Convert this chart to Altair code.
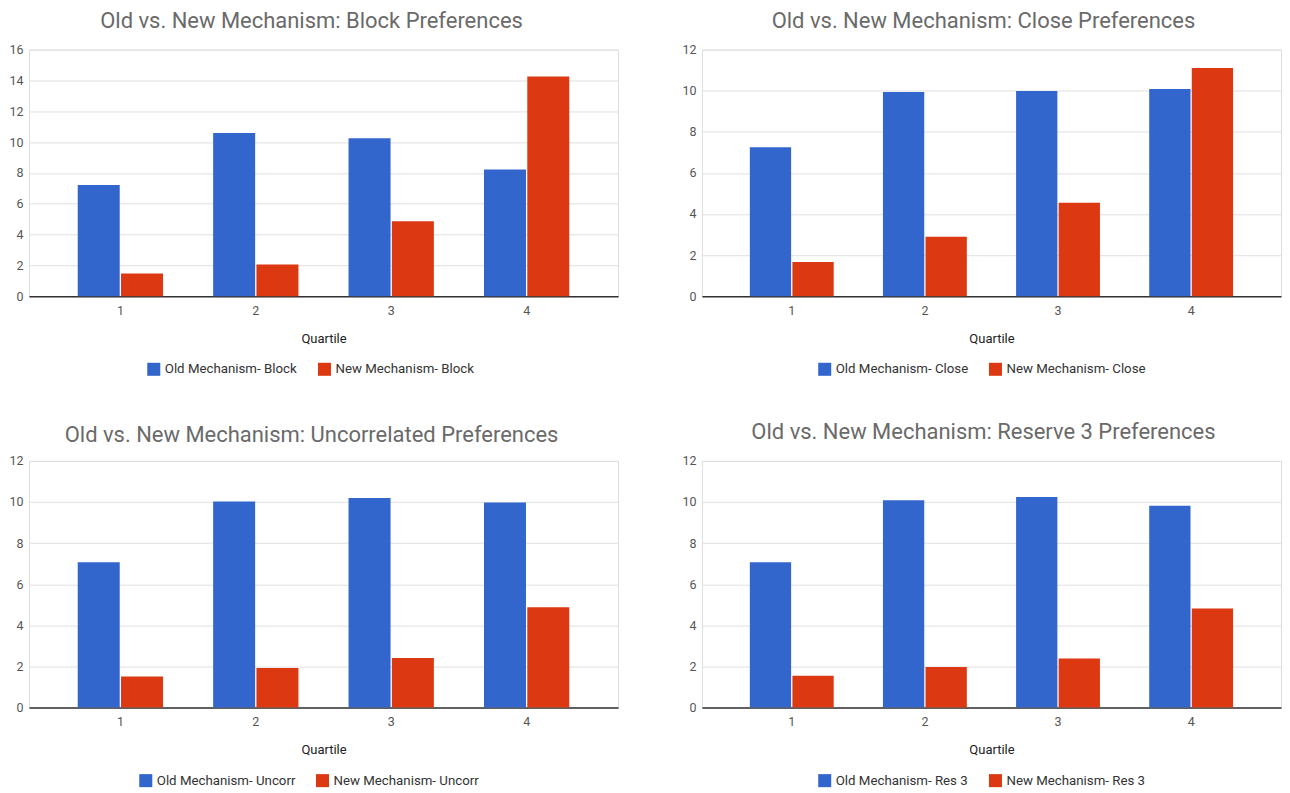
import altair as alt
import pandas as pd

quartiles = ["1", "2", "3", "4"]

block_old = [7.22, 10.58, 10.24, 8.22]
block_new = [1.47, 2.06, 4.86, 14.25]
close_old = [7.24, 9.94, 9.98, 10.08]
close_new = [1.66, 2.89, 4.55, 11.1]
uncorr_old = [7.07, 10.03, 10.2, 9.97]
uncorr_new = [1.51, 1.92, 2.41, 4.88]
res3_old = [7.07, 10.08, 10.24, 9.82]
res3_new = [1.54, 1.97, 2.39, 4.82]

BLUE = "#3366cc"
RED = "#dc3912"
FONT = "Roboto"


def panel(title, suffix, old, new, ymax, legend_x, w, title_dx, title_dy):
    old_name = f"Old Mechanism- {suffix}"
    new_name = f"New Mechanism- {suffix}"
    df = pd.DataFrame({
        "Quartile": quartiles * 2,
        "value": old + new,
        "series": [old_name] * 4 + [new_name] * 4,
    })
    return alt.Chart(
        df,
        title=alt.Title(title, anchor="middle", fontSize=22, font=FONT,
                        fontWeight="normal", color="#6a6a6a", offset=11,
                        dx=title_dx, dy=title_dy),
    ).mark_bar().encode(
        x=alt.X("Quartile:N",
                scale=alt.Scale(paddingInner=0.37, paddingOuter=0.36),
                axis=alt.Axis(title="Quartile", labelAngle=0, ticks=False,
                              domainColor="#333333", domainWidth=1.5,
                              labelColor="#555555", labelFontSize=12.5, labelFont=FONT,
                              labelPadding=8, titleFont=FONT, titleFontSize=13,
                              titleFontWeight="normal", titleColor="#222222",
                              titlePadding=16)),
        xOffset=alt.XOffset("series:N", sort=[old_name, new_name],
                            scale=alt.Scale(paddingInner=0.03)),
        y=alt.Y("value:Q",
                scale=alt.Scale(domain=[0, ymax], nice=False),
                axis=alt.Axis(values=list(range(0, ymax + 1, 2)), title=None,
                              domain=False, ticks=False, gridColor="#e0e0e0",
                              labelColor="#555555", labelFontSize=12.5, labelFont=FONT,
                              labelPadding=6)),
        color=alt.Color("series:N",
                        scale=alt.Scale(domain=[old_name, new_name], range=[BLUE, RED]),
                        legend=alt.Legend(orient="none", legendX=legend_x, legendY=313,
                                          direction="horizontal", title=None,
                                          symbolType="square", symbolSize=170,
                                          symbolStrokeWidth=0, labelFont=FONT,
                                          labelFontSize=13.3, labelColor="#333333",
                                          columnPadding=20)),
    ).properties(width=w, height=247)


p1 = panel("Old vs. New Mechanism: Block Preferences", "Block", block_old, block_new, 16, 118, 590, -12, 0)
p2 = panel("Old vs. New Mechanism: Close Preferences", "Close", close_old, close_new, 12, 116, 580, -8, 0)
p3 = panel("Old vs. New Mechanism: Uncorrelated Preferences", "Uncorr", uncorr_old, uncorr_new, 12, 110, 590, -12, 3)
p4 = panel("Old vs. New Mechanism: Reserve 3 Preferences", "Res 3", res3_old, res3_new, 12, 116, 580, -8, 0)

row1 = alt.hconcat(p1, p2, spacing=62).resolve_scale(color="independent", y="independent", x="independent", xOffset="independent")
row2 = alt.hconcat(p3, p4, spacing=62).resolve_scale(color="independent", y="independent", x="independent", xOffset="independent")

chart = alt.vconcat(row1, row2, spacing=43).resolve_scale(
    color="independent", y="independent", x="independent", xOffset="independent"
).properties(padding=0).configure_view(stroke=None).configure(font=FONT, background="white")

chart.save("out.html", embed_options={"renderer": "svg", "actions": False})
